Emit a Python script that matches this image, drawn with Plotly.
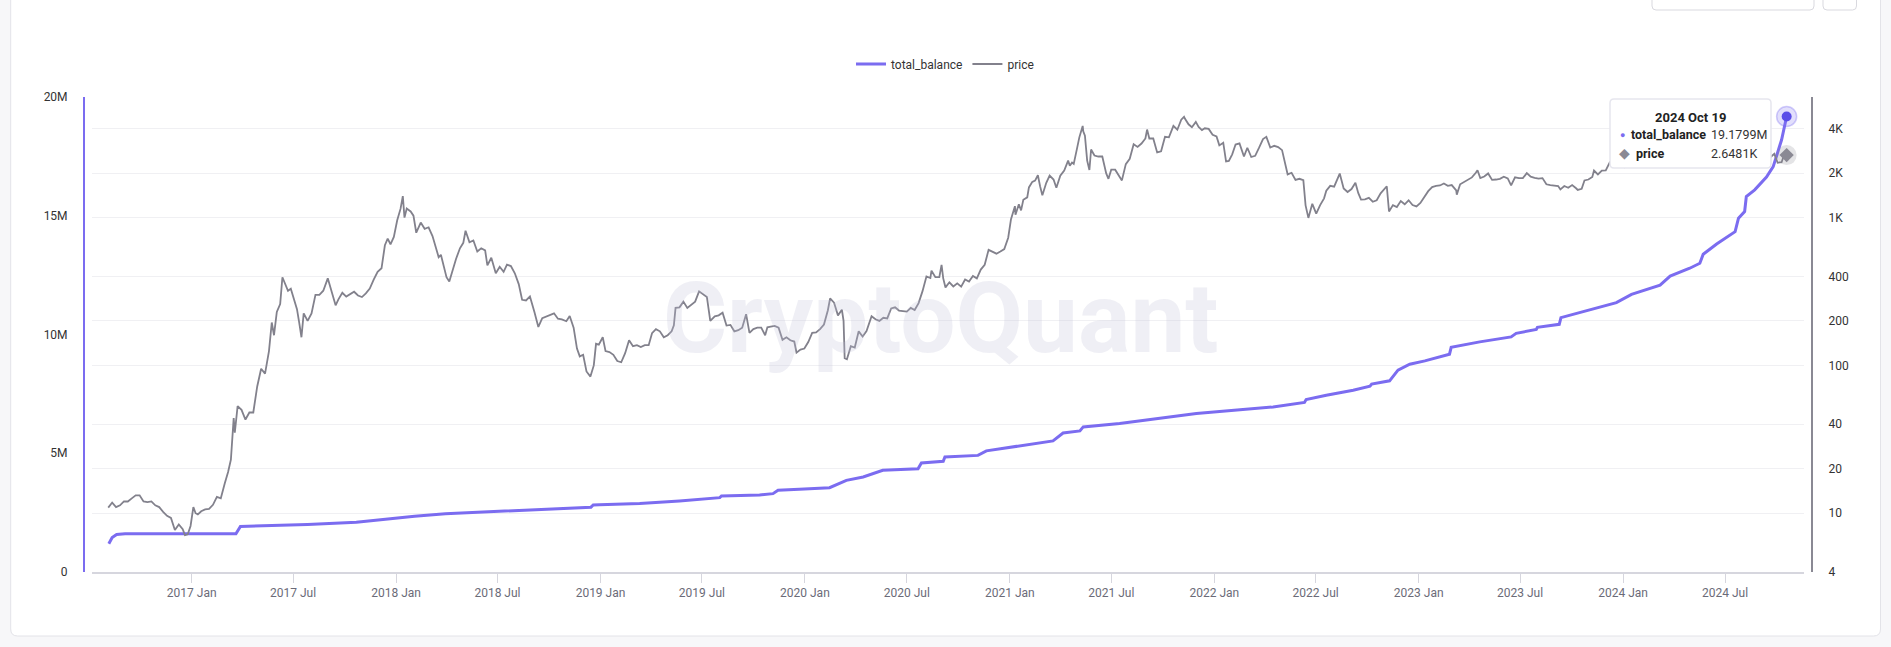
import math
import plotly.graph_objects as go

# ---------------- data ----------------
price_dates = [
 "2016-08-05","2016-08-12","2016-08-19","2016-08-26","2016-09-02","2016-09-09","2016-09-16","2016-09-23","2016-09-30",
 "2016-10-07","2016-10-14","2016-10-21","2016-10-28","2016-11-04","2016-11-11","2016-11-18","2016-11-25","2016-12-02",
 "2016-12-09","2016-12-16","2016-12-20","2016-12-25","2016-12-30",
 "2017-01-04","2017-01-08","2017-01-12","2017-01-18","2017-01-25","2017-02-01","2017-02-08","2017-02-15","2017-02-22",
 "2017-03-01","2017-03-07","2017-03-12","2017-03-14","2017-03-17","2017-03-19","2017-03-24","2017-03-31","2017-04-07",
 "2017-04-14","2017-04-21","2017-04-28","2017-05-05","2017-05-12","2017-05-19","2017-05-24","2017-05-28","2017-06-02",
 "2017-06-08","2017-06-12","2017-06-17","2017-06-22","2017-06-27","2017-07-02","2017-07-08","2017-07-12","2017-07-16",
 "2017-07-20","2017-07-27","2017-08-03","2017-08-10","2017-08-17","2017-08-24","2017-09-01","2017-09-06","2017-09-10",
 "2017-09-15","2017-09-20","2017-09-27","2017-10-04","2017-10-11","2017-10-18","2017-10-25","2017-11-01","2017-11-08",
 "2017-11-15","2017-11-22","2017-11-29","2017-12-06","2017-12-12","2017-12-17","2017-12-22","2017-12-28",
 "2018-01-03","2018-01-09","2018-01-13","2018-01-16","2018-01-20","2018-01-27","2018-02-01","2018-02-06","2018-02-14",
 "2018-02-21","2018-02-28","2018-03-07","2018-03-14","2018-03-18","2018-03-22","2018-03-28","2018-04-01","2018-04-06",
 "2018-04-11","2018-04-18","2018-04-25","2018-05-01","2018-05-05","2018-05-12","2018-05-19","2018-05-26","2018-06-02",
 "2018-06-09","2018-06-13","2018-06-20","2018-06-28","2018-07-05","2018-07-12","2018-07-18","2018-07-25","2018-08-01",
 "2018-08-08","2018-08-14","2018-08-21","2018-08-28","2018-09-05","2018-09-12","2018-09-19","2018-09-26","2018-10-03",
 "2018-10-10","2018-10-17","2018-10-24","2018-11-01","2018-11-07","2018-11-14","2018-11-20","2018-11-25","2018-12-01",
 "2018-12-07","2018-12-14","2018-12-20","2018-12-24","2018-12-29",
 "2019-01-05","2019-01-10","2019-01-17","2019-01-24","2019-01-31","2019-02-07","2019-02-14","2019-02-21","2019-02-28",
 "2019-03-07","2019-03-14","2019-03-21","2019-03-28","2019-04-03","2019-04-10","2019-04-17","2019-04-24","2019-05-01",
 "2019-05-08","2019-05-12","2019-05-15","2019-05-22","2019-05-29","2019-06-05","2019-06-12","2019-06-19","2019-06-26",
 "2019-07-03","2019-07-10","2019-07-16","2019-07-24","2019-07-31","2019-08-07","2019-08-14","2019-08-21","2019-08-28",
 "2019-09-04","2019-09-11","2019-09-18","2019-09-24","2019-10-01","2019-10-08","2019-10-15","2019-10-22","2019-10-26",
 "2019-11-01","2019-11-08","2019-11-15","2019-11-22","2019-11-29","2019-12-06","2019-12-13","2019-12-17","2019-12-24",
 "2019-12-31",
 "2020-01-07","2020-01-14","2020-01-21","2020-01-28","2020-02-04","2020-02-11","2020-02-15","2020-02-22","2020-02-29",
 "2020-03-07","2020-03-10","2020-03-12","2020-03-16","2020-03-23","2020-03-30","2020-04-06","2020-04-13","2020-04-20",
 "2020-04-29","2020-05-06","2020-05-13","2020-05-20","2020-05-27","2020-06-03","2020-06-10","2020-06-17","2020-06-24",
 "2020-07-01","2020-07-08","2020-07-15","2020-07-22","2020-07-29","2020-08-05","2020-08-12","2020-08-14","2020-08-21",
 "2020-08-28","2020-09-01","2020-09-04","2020-09-08","2020-09-15","2020-09-22","2020-09-29","2020-10-06","2020-10-13",
 "2020-10-20","2020-10-27","2020-11-03","2020-11-10","2020-11-17","2020-11-24","2020-12-01","2020-12-08","2020-12-15",
 "2020-12-22","2020-12-29",
 "2021-01-03","2021-01-10","2021-01-11","2021-01-17","2021-01-21","2021-01-25","2021-02-01","2021-02-04","2021-02-10",
 "2021-02-15","2021-02-20","2021-02-24","2021-02-28","2021-03-07","2021-03-13","2021-03-20","2021-03-25","2021-04-01",
 "2021-04-08","2021-04-15","2021-04-18","2021-04-22","2021-04-25","2021-05-01","2021-05-05","2021-05-11","2021-05-12",
 "2021-05-15","2021-05-19","2021-05-23","2021-05-26","2021-06-01","2021-06-08","2021-06-15","2021-06-22","2021-06-26",
 "2021-07-01","2021-07-08","2021-07-15","2021-07-20","2021-07-27","2021-08-03","2021-08-10","2021-08-17","2021-08-24",
 "2021-08-31","2021-09-03","2021-09-07","2021-09-14","2021-09-21","2021-09-28","2021-10-05","2021-10-12","2021-10-20",
 "2021-10-27","2021-11-03","2021-11-08","2021-11-10","2021-11-16","2021-11-22","2021-11-29","2021-12-04","2021-12-10",
 "2021-12-15","2021-12-22","2021-12-29",
 "2022-01-05","2022-01-10","2022-01-17","2022-01-22","2022-01-27","2022-02-02","2022-02-08","2022-02-15","2022-02-23",
 "2022-03-01","2022-03-08","2022-03-15","2022-03-22","2022-03-29","2022-04-04","2022-04-11","2022-04-18","2022-04-25",
 "2022-05-02","2022-05-09","2022-05-12","2022-05-19","2022-05-26","2022-06-02","2022-06-09","2022-06-13","2022-06-18",
 "2022-06-25","2022-07-02","2022-07-09","2022-07-16","2022-07-20","2022-07-27","2022-08-03","2022-08-10","2022-08-13",
 "2022-08-20","2022-08-27","2022-09-03","2022-09-10","2022-09-15","2022-09-20","2022-09-27","2022-10-04","2022-10-11",
 "2022-10-18","2022-10-25","2022-11-01","2022-11-05","2022-11-09","2022-11-16","2022-11-23","2022-11-30","2022-12-07",
 "2022-12-14","2022-12-21","2022-12-28",
 "2023-01-04","2023-01-11","2023-01-18","2023-01-25","2023-02-01","2023-02-08","2023-02-15","2023-02-22","2023-03-01",
 "2023-03-09","2023-03-10","2023-03-16","2023-03-23","2023-03-30","2023-04-06","2023-04-13","2023-04-16","2023-04-21",
 "2023-04-28","2023-05-05","2023-05-12","2023-05-19","2023-05-26","2023-06-02","2023-06-09","2023-06-15","2023-06-22",
 "2023-06-29","2023-07-06","2023-07-13","2023-07-20","2023-07-27","2023-08-03","2023-08-10","2023-08-17","2023-08-24",
 "2023-08-31","2023-09-07","2023-09-11","2023-09-18","2023-09-25","2023-10-02","2023-10-09","2023-10-12","2023-10-19",
 "2023-10-24","2023-10-31","2023-11-07","2023-11-10","2023-11-17","2023-11-24","2023-12-01","2023-12-08","2023-12-15",
 "2023-12-22","2023-12-28",
 "2024-01-03","2024-01-10","2024-01-12","2024-01-17","2024-01-23","2024-01-30","2024-02-06","2024-02-13","2024-02-20",
 "2024-02-27","2024-03-04","2024-03-11","2024-03-12","2024-03-18","2024-03-25","2024-04-01","2024-04-08","2024-04-13",
 "2024-04-17","2024-04-22","2024-04-30","2024-05-07","2024-05-14","2024-05-21","2024-05-27","2024-06-03","2024-06-10",
 "2024-06-17","2024-06-24","2024-07-01","2024-07-05","2024-07-12","2024-07-19","2024-07-26","2024-08-02","2024-08-05",
 "2024-08-12","2024-08-19","2024-08-26","2024-09-02","2024-09-06","2024-09-13","2024-09-20","2024-09-27","2024-10-03",
 "2024-10-10","2024-10-14","2024-10-19",
]
price_values = [
 10.9,11.8,11.0,11.3,12.0,12.0,12.6,13.2,13.2,
 12.0,11.9,12.0,11.3,11.0,10.2,9.6,9.3,7.7,
 8.4,7.8,7.1,7.2,8.2,
 11.0,10.0,9.8,10.3,10.6,10.7,11.4,12.9,12.6,
 15.9,19.0,23.0,28.6,44.0,35.0,53.0,50.0,43.0,
 48.0,48.0,72.0,95.0,88.0,125,195,160,230,
 260,395,360,320,330,290,240,195,155,
 225,200,225,300,300,320,388,335,295,
 255,280,310,292,305,315,297,290,307,
 331,380,430,454,650,720,660,740,
 960,1150,1397,1000,1150,1100,1030,790,925,
 840,860,750,610,540,560,450,395,370,
 430,525,620,675,815,680,700,590,620,
 600,475,535,420,465,430,480,470,420,
 355,278,275,293,230,182,209,215,220,
 225,207,205,199,216,180,130,115,118,
 91,84,100,140,138,
 155,125,123,118,107,105,121,148,135,
 137,133,137,137,165,176,170,155,160,
 170,187,245,247,270,245,258,270,317,
 302,290,200,215,218,227,186,188,170,
 173,180,222,166,176,180,180,160,181,
 183,185,180,149,155,148,145,122,128,
 130,
 144,166,167,176,189,236,284,266,218,
 238,200,112,110,135,132,170,157,171,
 215,205,200,210,208,243,247,235,233,
 231,245,237,264,318,400,390,437,395,
 395,478,388,337,365,342,359,341,381,
 369,403,388,445,480,605,590,570,590,
 612,731,
 975,1195,1045,1230,1120,1320,1370,1600,1745,
 1780,1935,1626,1417,1720,1925,1810,1590,1920,
 2080,2430,2240,2360,2310,2950,3490,4170,3830,
 3580,2430,2100,2890,2630,2590,2590,1990,1830,
 2110,2110,1915,1785,2300,2500,3140,3010,3170,
 3430,3940,3430,3430,2760,2810,3520,3490,4170,
 3930,4600,4810,4640,4280,4090,4440,4110,3910,
 4020,3980,3630,
 3540,3080,3210,2400,2420,2680,3120,3180,2590,
 2970,2570,2620,2970,3400,3520,2980,3060,3000,
 2860,2240,1960,2010,1800,1830,1790,1210,995,
 1240,1065,1215,1350,1520,1640,1620,1850,1985,
 1575,1490,1560,1720,1470,1325,1330,1360,1280,
 1310,1460,1580,1630,1100,1215,1180,1295,1230,
 1310,1215,1190,
 1255,1390,1510,1610,1640,1650,1700,1640,1660,
 1530,1430,1680,1740,1795,1870,2010,2090,1850,
 1895,1990,1800,1810,1830,1890,1840,1650,1875,
 1850,1850,2000,1890,1860,1835,1850,1680,1660,
 1645,1635,1550,1635,1590,1660,1580,1540,1565,
 1785,1810,1885,2080,1960,2080,2090,2360,2220,
 2325,2345,
 2210,2580,2520,2525,2240,2340,2370,2660,3010,
 3240,3630,4065,3980,3520,3590,3500,3700,3010,
 2985,3200,3010,3000,2880,3790,3890,3770,3660,
 3510,3300,3440,2980,3100,3500,3280,2990,2420,
 2720,2640,2680,2540,2270,2430,2560,2700,2350,
 2370,2630,2648.1,
]

balance_dates = [
 "2016-08-06","2016-08-12","2016-08-20","2016-09-04","2017-03-21","2017-03-29","2017-07-27","2017-10-22",
 "2018-02-03","2018-03-30","2018-12-15","2018-12-19","2018-12-30","2019-03-12","2019-05-22","2019-08-02",
 "2019-08-05","2019-10-12","2019-11-05","2019-11-14","2019-12-22","2020-02-14","2020-03-15","2020-04-14",
 "2020-05-19","2020-06-18","2020-07-21","2020-07-27","2020-09-04","2020-09-07","2020-10-14","2020-11-05",
 "2020-11-20","2021-01-18","2021-03-19","2021-04-06","2021-05-06","2021-05-12","2021-07-16","2021-11-30",
 "2022-04-16","2022-06-11","2022-06-14","2022-07-20","2022-09-06","2022-10-06","2022-10-09","2022-11-10",
 "2022-11-25","2022-12-16","2023-01-12","2023-02-25","2023-02-28","2023-04-20","2023-06-15","2023-06-24",
 "2023-07-30","2023-08-01","2023-09-09","2023-09-12","2023-10-28","2023-12-20","2024-01-16","2024-03-07",
 "2024-03-25","2024-04-29","2024-05-17","2024-05-23","2024-06-16","2024-07-19","2024-07-25","2024-08-05",
 "2024-08-08","2024-08-23","2024-09-13","2024-09-25","2024-10-10","2024-10-19",
]
balance_millions = [
 1.19,1.45,1.58,1.61,1.61,1.92,2.00,2.09,
 2.35,2.45,2.73,2.82,2.83,2.88,2.99,3.13,
 3.20,3.24,3.30,3.44,3.48,3.55,3.86,4.00,
 4.28,4.31,4.35,4.59,4.66,4.84,4.88,4.91,
 5.10,5.31,5.52,5.85,5.94,6.11,6.25,6.67,
 6.95,7.14,7.26,7.44,7.65,7.82,7.91,8.05,
 8.50,8.75,8.89,9.17,9.46,9.69,9.90,10.05,
 10.21,10.30,10.43,10.71,10.99,11.34,11.69,12.08,
 12.46,12.79,13.00,13.38,13.81,14.33,14.90,15.18,
 15.81,16.09,16.63,17.07,18.20,19.1799,
]
balance_values = [v * 1e6 for v in balance_millions]

left_ticks = [0, 5e6, 10e6, 15e6, 20e6]
left_labels = ["0", "5M", "10M", "15M", "20M"]
right_ticks = [4, 10, 20, 40, 100, 200, 400, 1000, 2000, 4000]
right_labels = ["4", "10", "20", "40", "100", "200", "400", "1K", "2K", "4K"]
x_ticks = [f"{y}-{m}-01" for y in range(2017, 2025) for m in ("01", "07")]
x_labels = [f"{y} {n}" for y in range(2017, 2025) for n in ("Jan", "Jul")]

tooltip_title = "2024 Oct 19"
tooltip_balance = "19.1799M"
tooltip_price = "2.6481K"

# ---------------- layout helpers ----------------
W, H = 1891, 647
ML, MR, MT, MB = 84, 79, 97, 75
PW, PH = W - ML - MR, H - MT - MB
def px(x):
    return (x - ML) / PW
def py(y):
    return (H - MB - y) / PH

PURPLE = "#7b6cf0"
GRAY = "#82818c"
FONT = "Roboto"

def rrect(x0, y0, x1, y1, r):
    X0, X1 = px(x0), px(x1)
    Y0, Y1 = py(y0), py(y1)   # Y0 top, Y1 bottom
    rx, ry = r / PW, r / PH
    return (f"M {X0+rx},{Y0} L {X1-rx},{Y0} Q {X1},{Y0} {X1},{Y0-ry} "
            f"L {X1},{Y1+ry} Q {X1},{Y1} {X1-rx},{Y1} L {X0+rx},{Y1} "
            f"Q {X0},{Y1} {X0},{Y1+ry} L {X0},{Y0-ry} Q {X0},{Y0} {X0+rx},{Y0} Z")

fig = go.Figure()
fig.add_trace(go.Scatter(x=balance_dates, y=balance_values, name="total_balance", mode="lines",
                         line=dict(color=PURPLE, width=3), yaxis="y", hoverinfo="skip"))
fig.add_trace(go.Scatter(x=price_dates, y=price_values, name="price", mode="lines",
                         line=dict(color=GRAY, width=1.8), yaxis="y2", hoverinfo="skip"))
# highlighted last points
fig.add_trace(go.Scatter(x=[balance_dates[-1]], y=[balance_values[-1]], mode="markers", yaxis="y",
                         marker=dict(size=20, color="rgba(123,108,240,0.22)", line=dict(width=1.5, color="rgba(123,108,240,0.35)")),
                         showlegend=False, hoverinfo="skip"))
fig.add_trace(go.Scatter(x=[balance_dates[-1]], y=[balance_values[-1]], mode="markers", yaxis="y",
                         marker=dict(size=10, color="#5b4ee8"), showlegend=False, hoverinfo="skip"))
fig.add_trace(go.Scatter(x=[price_dates[-1]], y=[price_values[-1]], mode="markers", yaxis="y2",
                         marker=dict(size=20, color="rgba(130,130,140,0.22)"), showlegend=False, hoverinfo="skip"))
fig.add_trace(go.Scatter(x=[price_dates[-1]], y=[price_values[-1]], mode="markers", yaxis="y2",
                         marker=dict(size=11, symbol="diamond", color="#8a8994"), showlegend=False, hoverinfo="skip"))

shapes = [
    dict(type="path", xref="paper", yref="paper", path=rrect(10.7, -12, 1880.5, 636, 7),
         fillcolor="white", line=dict(color="#e3e3e8", width=1), layer="below"),
    dict(type="path", xref="paper", yref="paper", path=rrect(1652, -12, 1814, 10, 4),
         fillcolor="white", line=dict(color="#d9d9df", width=1), layer="below"),
    dict(type="path", xref="paper", yref="paper", path=rrect(1823, -12, 1856.5, 10, 4),
         fillcolor="white", line=dict(color="#d9d9df", width=1), layer="below"),
    dict(type="path", xref="paper", yref="paper", path=rrect(1610, 99, 1771, 168, 4),
         fillcolor="white", line=dict(color="#e6e6ee", width=1.5), layer="above"),
]

def ann(x, y, text, size=12, color="#222", xanchor="left", bold=False, family=FONT):
    return dict(x=px(x), y=py(y), xref="paper", yref="paper", text=(f"<b>{text}</b>" if bold else text),
                showarrow=False, xanchor=xanchor, yanchor="middle",
                font=dict(size=size, color=color, family=family))

annotations = [
    dict(x=px(941), y=py(318), xref="paper", yref="paper", text="<b>CryptoQuant</b>", showarrow=False,
         xanchor="center", yanchor="middle",
         font=dict(size=98, color="rgba(190,190,215,0.25)", family="Roboto")),
    ann(1690, 117, tooltip_title, size=13, xanchor="center", bold=True),
    ann(1622, 135, "●", size=9, color=PURPLE, xanchor="center"),
    ann(1629, 135, "total_balance", size=12.5, bold=True),
    ann(1709, 135, tooltip_balance, size=12.5, color="#333"),
    ann(1624, 153, "◆", size=14, color="#8a8994", xanchor="center"),
    ann(1634, 153, "price", size=12.5, bold=True),
    ann(1709, 153, tooltip_price, size=12.5, color="#333"),
]

fig.update_layout(
    width=W, height=H,
    margin=dict(l=ML, r=MR, t=MT, b=MB, pad=0),
    paper_bgcolor="#f7f7f9", plot_bgcolor="rgba(0,0,0,0)",
    font=dict(family=FONT, size=12, color="#333"),
    hovermode=False,
    showlegend=True,
    legend=dict(orientation="h", x=px(945), xanchor="center", y=py(64), yanchor="middle",
                font=dict(size=12, color="#333"), bgcolor="rgba(0,0,0,0)", itemwidth=30),
    xaxis=dict(type="date", domain=[px(92), px(1804)], range=["2016-07-07", "2024-11-19"],
               showline=True, linecolor="#d6d6de", linewidth=1.5, showgrid=False, zeroline=False,
               ticks="outside", ticklen=9, tickcolor="#d6d6de", tickwidth=1,
               tickvals=x_ticks, ticktext=x_labels, tickfont=dict(size=12, color="#6b6b78")),
    yaxis=dict(range=[0, 20e6], anchor="free", position=0, showline=True, linecolor=PURPLE, linewidth=2,
               showgrid=False, zeroline=False, ticks="", tickvals=left_ticks, ticktext=left_labels,
               ticklabelstandoff=13, tickfont=dict(size=12, color="#333")),
    yaxis2=dict(type="log", overlaying="y", side="right", anchor="free", position=1,
                range=[math.log10(4), 3.816], showline=True, linecolor="#8a8994", linewidth=2,
                showgrid=True, gridcolor="#f0f0f3", gridwidth=1, zeroline=False, ticks="",
                tickvals=right_ticks, ticktext=right_labels, ticklabelstandoff=13,
                tickfont=dict(size=12, color="#333")),
    shapes=shapes,
    annotations=annotations,
)

fig.write_html("out.html")
